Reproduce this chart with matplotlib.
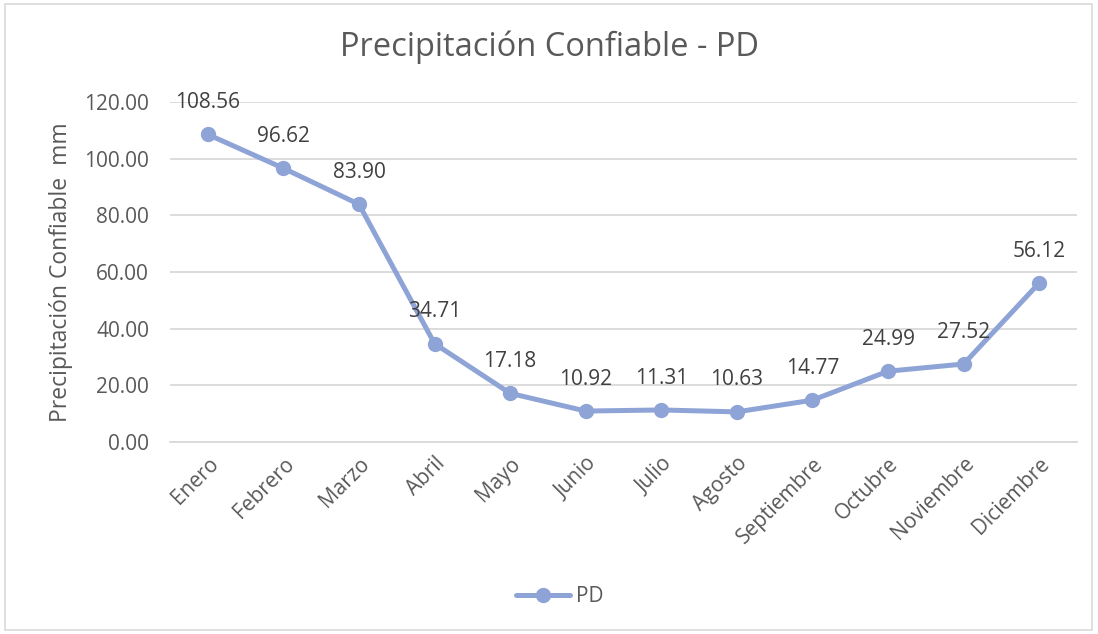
import matplotlib
matplotlib.use("Agg")
import matplotlib.pyplot as plt
from matplotlib.patches import Rectangle

months = ["Enero", "Febrero", "Marzo", "Abril", "Mayo", "Junio", "Julio",
          "Agosto", "Septiembre", "Octubre", "Noviembre", "Diciembre"]
pd_values = [108.56, 96.62, 83.90, 34.71, 17.18, 10.92, 11.31, 10.63,
             14.77, 24.99, 27.52, 56.12]
yticks = [0, 20, 40, 60, 80, 100, 120]

plt.rcParams['font.family'] = ['Open Sans', 'DejaVu Sans']
txt = '#595959'
line_c = '#8FA4D6'
fs = 15

fig = plt.figure(figsize=(10.98, 6.34), dpi=100)
ax = fig.add_axes([170/1098, 1-442/634, (1077-170)/1098, 340/634])

x = list(range(len(months)))
ax.plot(x, pd_values, color=line_c, lw=3.6, marker='o', markersize=10,
        solid_capstyle='round', label='PD', zorder=3)
for xi, v in zip(x, pd_values):
    ax.annotate(f"{v:.2f}", (xi, v), xytext=(0, 23), textcoords='offset points',
                ha='center', va='center', fontsize=fs, color='#404040')

ax.set_xlim(-0.5, len(months) - 0.5)
ax.set_ylim(0, 120)
ax.set_yticks(yticks)
ax.set_yticklabels([f"{t:.2f}" for t in yticks], fontsize=fs, color=txt)
ax.set_xticks(x)
ax.set_xticklabels(months, rotation=45, ha='right', rotation_mode='anchor',
                   fontsize=fs, color=txt)
ax.tick_params(axis='both', length=0)
ax.tick_params(axis='y', pad=15)
ax.tick_params(axis='x', pad=8)
ax.grid(axis='y', color='#D9D9D9', lw=1.3)
ax.set_axisbelow(True)
for s in ['top', 'right', 'left']:
    ax.spines[s].set_visible(False)
ax.spines['bottom'].set_color('#D9D9D9')
ax.spines['bottom'].set_linewidth(1.3)

ax.set_ylabel("Precipitación Confiable  mm", fontsize=16.5, color=txt, labelpad=8)
fig.text(0.5, 1-47/634, "Precipitación Confiable - PD", ha='center', va='center',
         fontsize=23.5, color=txt)

fig.legend(loc='center', bbox_to_anchor=(560/1098, 1-597/634), frameon=False,
           fontsize=fs, labelcolor=txt, handlelength=2.6, handletextpad=0.3)

fig.patches.append(Rectangle((5/1098, 4/634), 1087/1098, 626/634, transform=fig.transFigure,
                             fill=False, edgecolor='#D9D9D9', lw=1.2))

fig.savefig("out.png", dpi=100, facecolor='white')
